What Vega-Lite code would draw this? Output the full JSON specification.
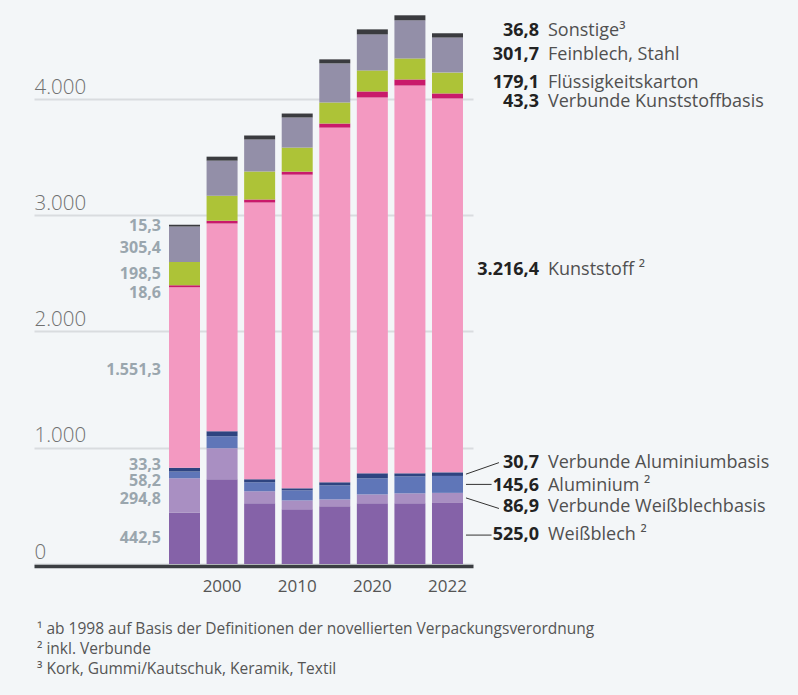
{
  "$schema": "https://vega.github.io/schema/vega-lite/v6.json",
  "width": 439,
  "height": 558,
  "autosize": "none",
  "padding": {"left": 34, "top": 6, "right": 325, "bottom": 131},
  "background": "#f3f6f8",
  "config": {
    "locale": {"number": {"decimal": ",", "thousands": ".", "grouping": [3], "currency": ["", " €"]}},
    "font": "Open Sans",
    "view": {"stroke": null}
  },
  "title": {
    "text": ["¹ ab 1998 auf Basis der Definitionen der novellierten Verpackungsverordnung", "² inkl. Verbunde", "³ Kork, Gummi/Kautschuk, Keramik, Textil"],
    "orient": "bottom",
    "anchor": "start",
    "frame": "group",
    "offset": 28,
    "dx": 3,
    "fontSize": 15.5,
    "fontWeight": "normal",
    "font": "Open Sans",
    "color": "#555555",
    "lineHeight": 20,
    "baseline": "top"
  },
  "data": {
    "values": [
      {"year": "1991", "cat": "Weißblech ²", "value": 442.5},
      {"year": "1991", "cat": "Verbunde Weißblechbasis", "value": 294.8},
      {"year": "1991", "cat": "Aluminium ²", "value": 58.2},
      {"year": "1991", "cat": "Verbunde Aluminiumbasis", "value": 33.3},
      {"year": "1991", "cat": "Kunststoff ²", "value": 1551.3},
      {"year": "1991", "cat": "Verbunde Kunststoffbasis", "value": 18.6},
      {"year": "1991", "cat": "Flüssigkeitskarton", "value": 198.5},
      {"year": "1991", "cat": "Feinblech, Stahl", "value": 305.4},
      {"year": "1991", "cat": "Sonstige³", "value": 15.3},
      {"year": "2000", "cat": "Weißblech ²", "value": 728},
      {"year": "2000", "cat": "Verbunde Weißblechbasis", "value": 268},
      {"year": "2000", "cat": "Aluminium ²", "value": 103},
      {"year": "2000", "cat": "Verbunde Aluminiumbasis", "value": 43},
      {"year": "2000", "cat": "Kunststoff ²", "value": 1787},
      {"year": "2000", "cat": "Verbunde Kunststoffbasis", "value": 24},
      {"year": "2000", "cat": "Flüssigkeitskarton", "value": 215},
      {"year": "2000", "cat": "Feinblech, Stahl", "value": 302},
      {"year": "2000", "cat": "Sonstige³", "value": 34},
      {"year": "2005", "cat": "Weißblech ²", "value": 522},
      {"year": "2005", "cat": "Verbunde Weißblechbasis", "value": 103},
      {"year": "2005", "cat": "Aluminium ²", "value": 78},
      {"year": "2005", "cat": "Verbunde Aluminiumbasis", "value": 26},
      {"year": "2005", "cat": "Kunststoff ²", "value": 2380},
      {"year": "2005", "cat": "Verbunde Kunststoffbasis", "value": 26},
      {"year": "2005", "cat": "Flüssigkeitskarton", "value": 241},
      {"year": "2005", "cat": "Feinblech, Stahl", "value": 276},
      {"year": "2005", "cat": "Sonstige³", "value": 34},
      {"year": "2010", "cat": "Weißblech ²", "value": 470},
      {"year": "2010", "cat": "Verbunde Weißblechbasis", "value": 77},
      {"year": "2010", "cat": "Aluminium ²", "value": 87},
      {"year": "2010", "cat": "Verbunde Aluminiumbasis", "value": 17},
      {"year": "2010", "cat": "Kunststoff ²", "value": 2698},
      {"year": "2010", "cat": "Verbunde Kunststoffbasis", "value": 26},
      {"year": "2010", "cat": "Flüssigkeitskarton", "value": 207},
      {"year": "2010", "cat": "Feinblech, Stahl", "value": 259},
      {"year": "2010", "cat": "Sonstige³", "value": 34},
      {"year": "2015", "cat": "Weißblech ²", "value": 496},
      {"year": "2015", "cat": "Verbunde Weißblechbasis", "value": 60},
      {"year": "2015", "cat": "Aluminium ²", "value": 121},
      {"year": "2015", "cat": "Verbunde Aluminiumbasis", "value": 26},
      {"year": "2015", "cat": "Kunststoff ²", "value": 3051},
      {"year": "2015", "cat": "Verbunde Kunststoffbasis", "value": 35},
      {"year": "2015", "cat": "Flüssigkeitskarton", "value": 181},
      {"year": "2015", "cat": "Feinblech, Stahl", "value": 336},
      {"year": "2015", "cat": "Sonstige³", "value": 35},
      {"year": "2020", "cat": "Weißblech ²", "value": 522},
      {"year": "2020", "cat": "Verbunde Weißblechbasis", "value": 77},
      {"year": "2020", "cat": "Aluminium ²", "value": 138},
      {"year": "2020", "cat": "Verbunde Aluminiumbasis", "value": 43},
      {"year": "2020", "cat": "Kunststoff ²", "value": 3233},
      {"year": "2020", "cat": "Verbunde Kunststoffbasis", "value": 52},
      {"year": "2020", "cat": "Flüssigkeitskarton", "value": 181},
      {"year": "2020", "cat": "Feinblech, Stahl", "value": 310},
      {"year": "2020", "cat": "Sonstige³", "value": 43},
      {"year": "2021", "cat": "Weißblech ²", "value": 522},
      {"year": "2021", "cat": "Verbunde Weißblechbasis", "value": 86},
      {"year": "2021", "cat": "Aluminium ²", "value": 146},
      {"year": "2021", "cat": "Verbunde Aluminiumbasis", "value": 26},
      {"year": "2021", "cat": "Kunststoff ²", "value": 3336},
      {"year": "2021", "cat": "Verbunde Kunststoffbasis", "value": 52},
      {"year": "2021", "cat": "Flüssigkeitskarton", "value": 181},
      {"year": "2021", "cat": "Feinblech, Stahl", "value": 328},
      {"year": "2021", "cat": "Sonstige³", "value": 43},
      {"year": "2022", "cat": "Weißblech ²", "value": 525.0},
      {"year": "2022", "cat": "Verbunde Weißblechbasis", "value": 86.9},
      {"year": "2022", "cat": "Aluminium ²", "value": 145.6},
      {"year": "2022", "cat": "Verbunde Aluminiumbasis", "value": 30.7},
      {"year": "2022", "cat": "Kunststoff ²", "value": 3216.4},
      {"year": "2022", "cat": "Verbunde Kunststoffbasis", "value": 43.3},
      {"year": "2022", "cat": "Flüssigkeitskarton", "value": 179.1},
      {"year": "2022", "cat": "Feinblech, Stahl", "value": 301.7},
      {"year": "2022", "cat": "Sonstige³", "value": 36.8}
    ]
  },
  "transform": [
    {"window": [{"op": "row_number", "as": "k"}], "groupby": ["year"]}
  ],
  "encoding": {
    "x": {
      "field": "year", "type": "ordinal", "title": null,
      "scale": {
        "domain": ["_1", "_2", "_3", "1991", "2000", "2005", "2010", "2015", "2020", "2021", "2022"],
        "paddingInner": 0.175, "paddingOuter": 0.43, "align": 0.69
      },
      "axis": {
        "values": ["2000", "2010", "2020", "2022"],
        "labelAngle": 0, "ticks": false, "tickSize": 0,
        "domainColor": "#3b3e42", "domainWidth": 3.5, "offset": 2,
        "labelPadding": 12, "labelFontSize": 17, "labelColor": "#555555",
        "labelFont": "Open Sans", "labelBaseline": "top", "grid": false
      }
    },
    "y": {
      "field": "value", "type": "quantitative", "stack": "zero", "title": null,
      "scale": {"domain": [0, 4800], "nice": false},
      "axis": {
        "values": [0, 1000, 2000, 3000, 4000], "format": ",d",
        "domain": false, "ticks": false, "tickSize": 0, "grid": true,
        "gridColor": "#d9dcdf", "gridWidth": 2,
        "labelAlign": "left", "labelBaseline": "alphabetic", "labelPadding": 0,
        "labelOffset": -6, "labelFontSize": 20.5, "labelFontWeight": 300,
        "labelColor": "#707070", "labelFont": "Open Sans"
      }
    },
    "order": {"field": "k", "type": "quantitative"},
    "detail": {"field": "cat", "type": "nominal"}
  },
  "layer": [
    {
      "mark": {"type": "bar"},
      "encoding": {
        "color": {
          "field": "cat", "type": "nominal", "legend": null,
          "scale": {
            "domain": ["Weißblech ²", "Verbunde Weißblechbasis", "Aluminium ²", "Verbunde Aluminiumbasis", "Kunststoff ²", "Verbunde Kunststoffbasis", "Flüssigkeitskarton", "Feinblech, Stahl", "Sonstige³"],
            "range": ["#8562a8", "#a98fc2", "#5f76b8", "#2e4480", "#f399c1", "#c91a6b", "#adc337", "#938fa8", "#3a3b3f"]
          }
        }
      }
    },
    {
      "transform": [{"filter": "datum.year === '1991'"}],
      "mark": {
        "type": "text", "align": "right", "baseline": "middle", "dx": -8,
        "dy": {"expr": "[0, 3.5, 6.5, -4.5, -7.5, 7, 0, 3.5, 0][datum.k - 1]"},
        "fontSize": 16, "fontWeight": "bold", "color": "#9aa6ae", "font": "Open Sans"
      },
      "encoding": {
        "x": {"field": "year", "type": "ordinal", "bandPosition": 0, "title": null},
        "y": {"field": "value", "type": "quantitative", "stack": "zero", "bandPosition": 0.5, "title": null},
        "text": {"field": "value", "type": "quantitative", "format": ",.1f"}
      }
    },
    {
      "transform": [{"filter": "datum.year === '2022'"}],
      "mark": {
        "type": "text", "align": "right", "baseline": "middle", "dx": 76,
        "dy": {"expr": "[1.5, 9.5, 1.5, -11, -15, 6, 0, 0, -4.5][datum.k - 1]"},
        "fontSize": 18, "fontWeight": "bold", "color": "#222222", "font": "Open Sans"
      },
      "encoding": {
        "x": {"field": "year", "type": "ordinal", "bandPosition": 1, "title": null},
        "y": {"field": "value", "type": "quantitative", "stack": "zero", "bandPosition": 0.5, "title": null},
        "text": {"field": "value", "type": "quantitative", "format": ",.1f"}
      }
    },
    {
      "transform": [{"filter": "datum.year === '2022'"}],
      "mark": {
        "type": "text", "align": "left", "baseline": "middle", "dx": 85,
        "dy": {"expr": "[1.5, 9.5, 1.5, -11, -15, 6, 0, 0, -4.5][datum.k - 1]"},
        "fontSize": 18, "color": "#505050", "font": "Open Sans"
      },
      "encoding": {
        "x": {"field": "year", "type": "ordinal", "bandPosition": 1, "title": null},
        "y": {"field": "value", "type": "quantitative", "stack": "zero", "bandPosition": 0.5, "title": null},
        "text": {"field": "cat", "type": "nominal"}
      }
    },
    {
      "transform": [{"filter": "datum.year === '2022'"}],
      "mark": {"type": "point", "filled": false, "stroke": "#333333", "strokeWidth": 1, "size": 1024, "opacity": 1},
      "encoding": {
        "x": {"field": "year", "type": "ordinal", "bandPosition": 1.613, "title": null},
        "y": {"field": "value", "type": "quantitative", "stack": "zero", "bandPosition": 0.5, "title": null},
        "shape": {
          "field": "cat", "type": "nominal", "legend": null,
          "scale": {
            "domain": ["Weißblech ²", "Verbunde Weißblechbasis", "Aluminium ²", "Verbunde Aluminiumbasis", "Kunststoff ²", "Verbunde Kunststoffbasis", "Flüssigkeitskarton", "Feinblech, Stahl", "Sonstige³"],
            "range": ["M-1,0.1L0.6,0.1", "M-1,0L1.06,0.66", "M-1,0L0.6,0", "M-1,0L1.06,-0.72", "M0,0", "M0,0", "M0,0", "M0,0", "M0,0"]
          }
        }
      }
    }
  ]
}
